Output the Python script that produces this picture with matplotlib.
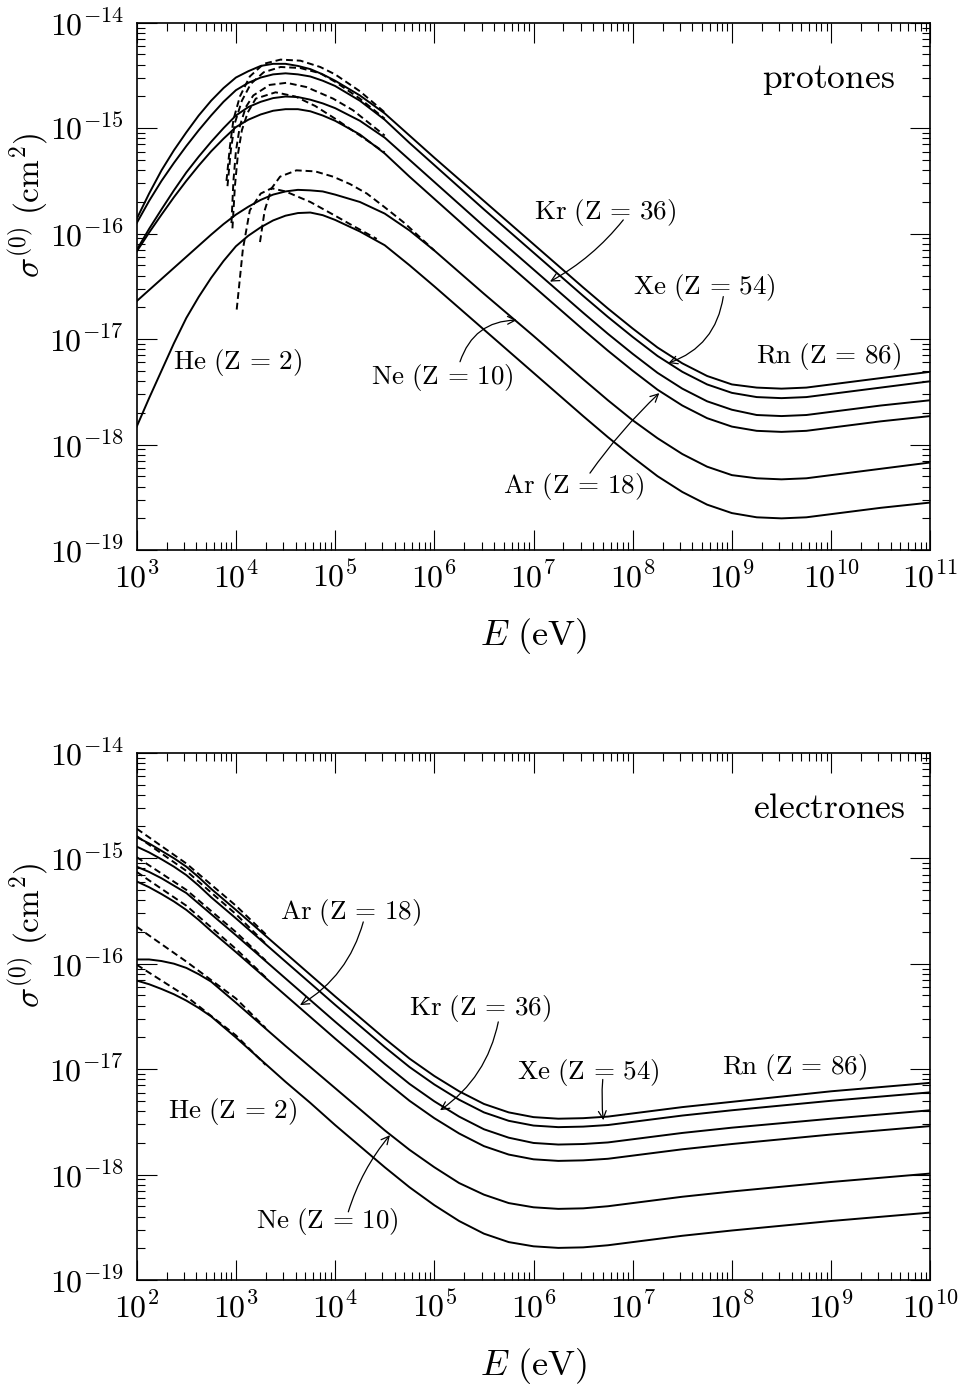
import numpy as np
import matplotlib
matplotlib.use("Agg")
import matplotlib.pyplot as plt
from matplotlib.ticker import LogLocator, NullFormatter, FuncFormatter

plt.rcParams["mathtext.fontset"] = "cm"
plt.rcParams["font.family"] = "serif"

elements = ["He", "Ne", "Ar", "Kr", "Xe", "Rn"]
Z = [2, 10, 18, 36, 54, 86]

# --- protones: log10 E (eV) / log10 sigma (cm^2)
p_logE = [3, 3.125, 3.25, 3.375, 3.5, 3.625, 3.75, 3.875, 4, 4.125, 4.25, 4.375, 4.5, 4.625, 4.75, 4.875,
          5, 5.25, 5.5, 5.75, 6, 6.5, 7, 7.5, 7.75, 8, 8.25, 8.5, 8.75, 9, 9.25, 9.5, 9.75, 10, 10.5, 11]
p_He = [-17.83, -17.56, -17.30, -17.04, -16.80, -16.60, -16.42, -16.26, -16.12, -16.02, -15.94, -15.875,
        -15.83, -15.805, -15.80, -15.825, -15.87, -15.98, -16.11, -16.30, -16.50, -16.91, -17.32, -17.73,
        -17.93, -18.12, -18.30, -18.45, -18.57, -18.65, -18.69, -18.70, -18.69, -18.66, -18.60, -18.55]
p_Ne = [-16.64, -16.535, -16.43, -16.325, -16.22, -16.115, -16.01, -15.91, -15.82, -15.745, -15.68, -15.63,
        -15.60, -15.585, -15.59, -15.60, -15.63, -15.70, -15.81, -15.97, -16.16, -16.57, -16.97, -17.38,
        -17.58, -17.77, -17.94, -18.09, -18.21, -18.29, -18.32, -18.33, -18.32, -18.29, -18.23, -18.17]
p_Ar = [-16.17, -15.99, -15.82, -15.655, -15.50, -15.355, -15.22, -15.10, -14.99, -14.92, -14.87, -14.835,
        -14.82, -14.82, -14.84, -14.88, -14.93, -15.06, -15.24, -15.46, -15.67, -16.09, -16.50, -16.91,
        -17.11, -17.30, -17.48, -17.63, -17.75, -17.83, -17.87, -17.88, -17.87, -17.84, -17.78, -17.73]
p_Kr = [-16.155, -15.955, -15.77, -15.59, -15.42, -15.27, -15.13, -15.00, -14.88, -14.80, -14.75, -14.715,
        -14.70, -14.705, -14.73, -14.765, -14.81, -14.93, -15.09, -15.30, -15.51, -15.93, -16.34, -16.75,
        -16.95, -17.14, -17.32, -17.47, -17.59, -17.67, -17.72, -17.73, -17.72, -17.69, -17.63, -17.58]
p_Xe = [-15.90, -15.69, -15.50, -15.33, -15.17, -15.02, -14.88, -14.75, -14.64, -14.57, -14.52, -14.49,
        -14.48, -14.49, -14.51, -14.55, -14.60, -14.74, -14.92, -15.14, -15.35, -15.77, -16.18, -16.59,
        -16.79, -16.98, -17.16, -17.31, -17.43, -17.51, -17.55, -17.56, -17.55, -17.52, -17.46, -17.40]
p_Rn = [-15.86, -15.62, -15.40, -15.21, -15.04, -14.88, -14.74, -14.62, -14.52, -14.46, -14.41, -14.39,
        -14.39, -14.41, -14.44, -14.49, -14.55, -14.69, -14.86, -15.07, -15.28, -15.69, -16.10, -16.51,
        -16.71, -16.90, -17.08, -17.23, -17.35, -17.43, -17.46, -17.47, -17.46, -17.43, -17.37, -17.31]

# dashed (approximation) curves, protones
pd_He_E = [4.008, 4.07, 4.14, 4.25, 4.36, 4.5, 4.75, 5.0, 5.15, 5.42]
pd_He = [-16.72, -16.15, -15.78, -15.62, -15.57, -15.60, -15.70, -15.83, -15.91, -16.05]
pd_Ne_E = [4.243, 4.29, 4.36, 4.445, 4.61, 4.8, 4.98, 5.15, 5.32, 5.5, 5.7, 6.0]
pd_Ne = [-16.08, -15.78, -15.57, -15.46, -15.40, -15.41, -15.46, -15.53, -15.62, -15.75, -15.90, -16.16]
pd_Ar_E = [3.965, 3.99, 4.02, 4.06, 4.12, 4.2, 4.4, 4.6, 4.8, 5.0, 5.25, 5.5]
pd_Ar = [-15.95, -15.55, -15.25, -15.02, -14.85, -14.72, -14.66, -14.70, -14.79, -14.91, -15.07, -15.23]
pd_Kr_E = [3.955, 3.975, 4.0, 4.04, 4.1, 4.175, 4.34, 4.51, 4.71, 4.98, 5.18, 5.5]
pd_Kr = [-15.90, -15.50, -15.22, -14.98, -14.80, -14.69, -14.59, -14.57, -14.61, -14.72, -14.83, -15.07]
pd_Xe_E = [3.915, 3.95, 3.99, 4.06, 4.15, 4.28, 4.45, 4.65, 4.85, 5.0, 5.25, 5.5]
pd_Xe = [-15.55, -15.20, -14.95, -14.74, -14.58, -14.47, -14.42, -14.43, -14.48, -14.56, -14.72, -14.91]
pd_Rn_E = [3.905, 3.94, 3.975, 4.04, 4.14, 4.28, 4.45, 4.65, 4.85, 5.0, 5.25, 5.5]
pd_Rn = [-15.50, -15.17, -14.92, -14.70, -14.51, -14.39, -14.35, -14.36, -14.42, -14.49, -14.65, -14.85]

# --- electrones
e_logE = [2, 2.125, 2.25, 2.375, 2.5, 2.625, 2.75, 3, 3.25, 3.5, 3.75, 4, 4.25, 4.5, 4.75, 5, 5.25,
          5.5, 5.75, 6, 6.25, 6.5, 6.75, 7, 7.5, 8, 9, 10]
e_He = [-16.16, -16.195, -16.24, -16.29, -16.35, -16.42, -16.50, -16.70, -16.91, -17.12, -17.32, -17.53,
        -17.73, -17.93, -18.12, -18.29, -18.44, -18.56, -18.64, -18.68, -18.695, -18.69, -18.67, -18.64,
        -18.58, -18.53, -18.44, -18.36]
e_Ne = [-15.96, -15.96, -15.975, -16.00, -16.04, -16.10, -16.17, -16.37, -16.575, -16.78, -16.98, -17.18,
        -17.38, -17.58, -17.765, -17.93, -18.08, -18.19, -18.27, -18.31, -18.325, -18.32, -18.30, -18.27,
        -18.21, -18.16, -18.07, -17.99]
e_Ar = [-15.22, -15.275, -15.34, -15.41, -15.49, -15.585, -15.69, -15.89, -16.095, -16.30, -16.505, -16.71,
        -16.91, -17.11, -17.30, -17.465, -17.61, -17.73, -17.81, -17.855, -17.87, -17.865, -17.85, -17.82,
        -17.76, -17.71, -17.62, -17.54]
e_Kr = [-15.08, -15.13, -15.19, -15.26, -15.33, -15.43, -15.53, -15.73, -15.935, -16.14, -16.345, -16.55,
        -16.75, -16.95, -17.14, -17.305, -17.45, -17.57, -17.65, -17.70, -17.715, -17.71, -17.695, -17.665,
        -17.605, -17.555, -17.47, -17.39]
e_Xe = [-14.89, -14.945, -15.01, -15.08, -15.16, -15.26, -15.37, -15.57, -15.775, -15.98, -16.185, -16.39,
        -16.59, -16.79, -16.98, -17.145, -17.29, -17.41, -17.49, -17.535, -17.55, -17.545, -17.53, -17.50,
        -17.44, -17.39, -17.30, -17.22]
e_Rn = [-14.80, -14.86, -14.93, -15.00, -15.08, -15.18, -15.29, -15.49, -15.695, -15.90, -16.105, -16.31,
        -16.51, -16.71, -16.90, -17.065, -17.21, -17.33, -17.41, -17.455, -17.47, -17.465, -17.45, -17.42,
        -17.36, -17.31, -17.21, -17.13]

ed_logE = [2, 2.5, 3, 3.3]
ed_He = [-16.01, -16.31, -16.68, -16.96]
ed_Ne = [-15.65, -15.98, -16.33, -16.61]
ed_Ar = [-15.13, -15.45, -15.86, -16.13]
ed_Kr = [-14.99, -15.30, -15.70, -15.97]
ed_Xe = [-14.79, -15.12, -15.53, -15.81]
ed_Rn = [-14.72, -15.05, -15.45, -15.72]

# labels: (element index, log E, log sigma) and arrows (start, tip, curvature)
p_labels = [(0, 4.016, -17.221), (1, 6.083, -17.363), (2, 7.409, -18.40),
            (3, 7.72, -15.80), (4, 8.726, -16.51), (5, 9.972, -17.164)]
p_arrows = [((7.905, -15.870), (7.166, -16.455), -0.1),
            ((8.913, -16.597), (8.359, -17.228), -0.3),
            ((6.259, -17.215), (6.831, -16.82), -0.35),
            ((7.569, -18.271), (8.268, -17.512), -0.05)]
e_labels = [(0, 2.966, -17.405), (1, 3.923, -18.441), (2, 4.158, -15.517),
            (3, 5.461, -16.425), (4, 6.553, -17.033), (5, 8.628, -16.986)]
e_arrows = [((4.284, -15.604), (3.646, -16.393), -0.2),
            ((5.645, -16.552), (5.058, -17.39), -0.2),
            ((6.698, -17.098), (6.704, -17.484), 0.05),
            ((4.133, -18.353), (4.553, -17.626), -0.1)]


def p10(v):
    return np.power(10.0, np.asarray(v, dtype=float))


def setup(ax, xmin, xmax):
    ax.set_xscale("log")
    ax.set_yscale("log")
    ax.set_xlim(10.0 ** xmin, 10.0 ** xmax)
    ax.set_ylim(1e-19, 1e-14)
    ax.set_xticks([10.0 ** k for k in range(xmin, xmax + 1)])
    ax.set_yticks([10.0 ** k for k in range(-19, -13)])
    fmt = FuncFormatter(lambda v, pos: r"$10^{%d}$" % int(round(np.log10(v))))
    ax.xaxis.set_major_formatter(fmt)
    ax.yaxis.set_major_formatter(fmt)
    for axis in (ax.xaxis, ax.yaxis):
        axis.set_minor_locator(LogLocator(base=10, subs=np.arange(2, 10), numticks=100))
        axis.set_minor_formatter(NullFormatter())
    ax.tick_params(which="both", direction="in", top=True, right=True, width=0.8)
    ax.tick_params(which="major", length=14.5, labelsize=23, pad=9)
    ax.tick_params(which="minor", length=6)
    for s in ax.spines.values():
        s.set_linewidth(1.2)
    ax.set_xlabel(r"$E\ (\mathrm{eV})$", fontsize=26, va="center")
    ax.xaxis.set_label_coords(0.5, -0.163)
    ax.set_ylabel(r"$\sigma^{(0)}\ (\mathrm{cm}^2)$", fontsize=24, va="center")
    ax.yaxis.set_label_coords(-0.137, 0.654)


def label(i):
    return r"$\mathrm{%s}\ (\mathrm{Z}\,=\,%d)$" % (elements[i], Z[i])


fig = plt.figure(figsize=(9.58, 13.84), dpi=100)
ax1 = fig.add_axes([0.1427, 0.6026, 0.8284, 0.381])
ax2 = fig.add_axes([0.1427, 0.0751, 0.8284, 0.381])

lw = 1.4
dash = (0, (3.5, 2.0))

for y in [p_He, p_Ne, p_Ar, p_Kr, p_Xe, p_Rn]:
    ax1.plot(p10(p_logE), p10(y), color="k", lw=lw)
for x, y in [(pd_He_E, pd_He), (pd_Ne_E, pd_Ne), (pd_Ar_E, pd_Ar),
             (pd_Kr_E, pd_Kr), (pd_Xe_E, pd_Xe), (pd_Rn_E, pd_Rn)]:
    ax1.plot(p10(x), p10(y), color="k", lw=lw, ls=dash)

for y in [e_He, e_Ne, e_Ar, e_Kr, e_Xe, e_Rn]:
    ax2.plot(p10(e_logE), p10(y), color="k", lw=lw)
for y in [ed_He, ed_Ne, ed_Ar, ed_Kr, ed_Xe, ed_Rn]:
    ax2.plot(p10(ed_logE), p10(y), color="k", lw=lw, ls=dash)

setup(ax1, 3, 11)
setup(ax2, 2, 10)

for ax, labs, arrs in [(ax1, p_labels, p_arrows), (ax2, e_labels, e_arrows)]:
    for i, lx, ly in labs:
        ax.text(10.0 ** lx, 10.0 ** ly, label(i), fontsize=19.5, ha="center", va="center")
    for (sx, sy), (tx, ty), rad in arrs:
        ax.annotate("", xy=(10.0 ** tx, 10.0 ** ty), xytext=(10.0 ** sx, 10.0 ** sy),
                    arrowprops=dict(arrowstyle="->", lw=0.9, color="k", shrinkA=0, shrinkB=0,
                                    mutation_scale=14, connectionstyle="arc3,rad=%g" % rad))

ax1.text(0.9555, 0.891, r"$\mathrm{protones}$", transform=ax1.transAxes, fontsize=25.5,
         ha="right", va="center")
ax2.text(0.968, 0.895, r"$\mathrm{electrones}$", transform=ax2.transAxes, fontsize=25.5,
         ha="right", va="center")

fig.savefig("out.png", dpi=100)
